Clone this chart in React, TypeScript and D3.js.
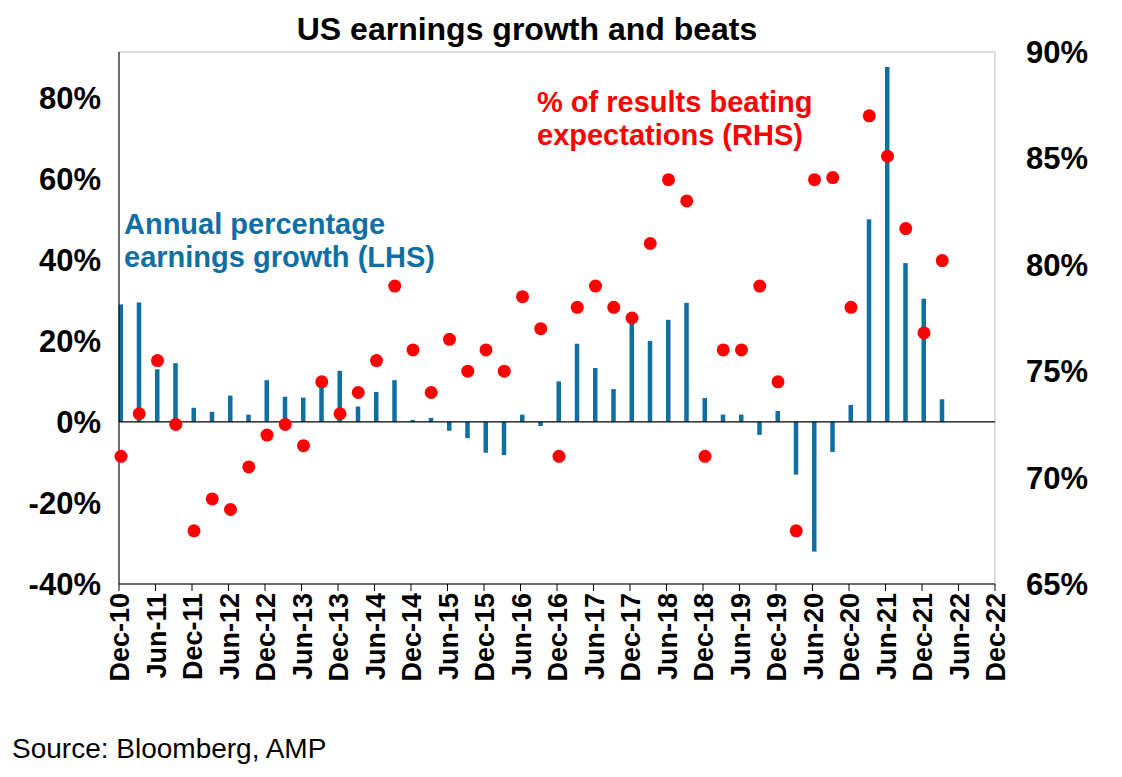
import * as d3 from "d3";

// quarterly, starting Dec-10
const growth = [29, 29.5, 13, 14.5, 3.5, 2.5, 6.5, 1.8, 10.3, 6.2, 6, 9.5, 12.6, 3.8, 7.4, 10.3, 0.5, 1, -2.2, -4, -7.6, -8.2, 1.8, -1, 10, 19.3, 13.3, 8.1, 24.4, 20, 25.2, 29.4, 5.9, 1.8, 1.8, -3.2, 2.7, -13, -32, -7.4, 4.2, 50, 87.6, 39.2, 30.4, 5.6];
const beats = [71, 73, 75.5, 72.5, 67.5, 69, 68.5, 70.5, 72, 72.5, 71.5, 74.5, 73, 74, 75.5, 79, 76, 74, 76.5, 75, 76, 75, 78.5, 77, 71, 78, 79, 78, 77.5, 81, 84, 83, 71, 76, 76, 79, 74.5, 67.5, 84, 84.1, 78, 87, 85.1, 81.7, 76.8, 80.2];
const xLabels = ["Dec-10", "Jun-11", "Dec-11", "Jun-12", "Dec-12", "Jun-13", "Dec-13", "Jun-14", "Dec-14", "Jun-15", "Dec-15", "Jun-16", "Dec-16", "Jun-17", "Dec-17", "Jun-18", "Dec-18", "Jun-19", "Dec-19", "Jun-20", "Dec-20", "Jun-21", "Dec-21", "Jun-22", "Dec-22"];
const leftTicks = [-40, -20, 0, 20, 40, 60, 80];
const rightTicks = [65, 70, 75, 80, 85, 90];

const W = 1122, H = 777;
const L = 119, R = 995, T = 52, B = 584;
const BLUE = "#0f6fa3";
const RED = "#ff0000";

export default function App() {
  const x = d3.scaleLinear().domain([0, 48]).range([L, R]);
  const yL = d3.scaleLinear().domain([-40, 91.3]).range([B, T]);
  const yR = d3.scaleLinear().domain([65, 90]).range([B, T]);
  const font = "Liberation Sans, Arial, sans-serif";
  return (
    <svg width={W} height={H} style={{ position: "absolute", left: 0, top: 0, fontFamily: font }}>
      <rect x={0} y={0} width={W} height={H} fill="#fff" />
      <text x={527} y={40} textAnchor="middle" fontSize={32} fontWeight="bold">US earnings growth and beats</text>
      <rect x={L} y={T} width={R - L} height={B - T} fill="none" stroke="#bbb" strokeWidth={1} />
      {growth.map((v, i) => (
        <rect key={i} x={x(i) - 0.5} width={4.5} y={Math.min(yL(v), yL(0))} height={Math.abs(yL(v) - yL(0))} fill={BLUE} />
      ))}
      <line x1={L} x2={R} y1={yL(0)} y2={yL(0)} stroke="#000" strokeWidth={1.2} />
      <line x1={L} x2={L} y1={T} y2={B} stroke="#000" strokeWidth={1} />
      <line x1={L} x2={R} y1={B} y2={B} stroke="#000" strokeWidth={1} />
      {beats.map((v, i) => (
        <circle key={i} cx={x(i) + 2} cy={yR(v)} r={6.5} fill={RED} />
      ))}
      {leftTicks.map(t => (
        <text key={t} x={L - 18} y={yL(t) + 11} textAnchor="end" fontSize={31} fontWeight="bold">{t}%</text>
      ))}
      {rightTicks.map(t => (
        <text key={t} x={1026} y={yR(t) + 11} fontSize={31} fontWeight="bold">{t}%</text>
      ))}
      {xLabels.map((lab, i) => (
        <g key={lab}>
          <line x1={x(i * 2)} x2={x(i * 2)} y1={B} y2={B + 7} stroke="#000" />
          <text transform={`translate(${x(i * 2) + 10},${B + 9}) rotate(-90)`} textAnchor="end" fontSize={27} fontWeight="bold">{lab}</text>
        </g>
      ))}
      <text fontSize={29} fontWeight="bold" fill={BLUE}>
        <tspan x={124} y={234}>Annual percentage</tspan>
        <tspan x={124} y={267}>earnings growth (LHS)</tspan>
      </text>
      <text fontSize={29} fontWeight="bold" fill={RED}>
        <tspan x={537} y={112}>% of results beating</tspan>
        <tspan x={537} y={145}>expectations (RHS)</tspan>
      </text>
      <text x={12} y={758} fontSize={28}>Source: Bloomberg, AMP</text>
    </svg>
  );
}
